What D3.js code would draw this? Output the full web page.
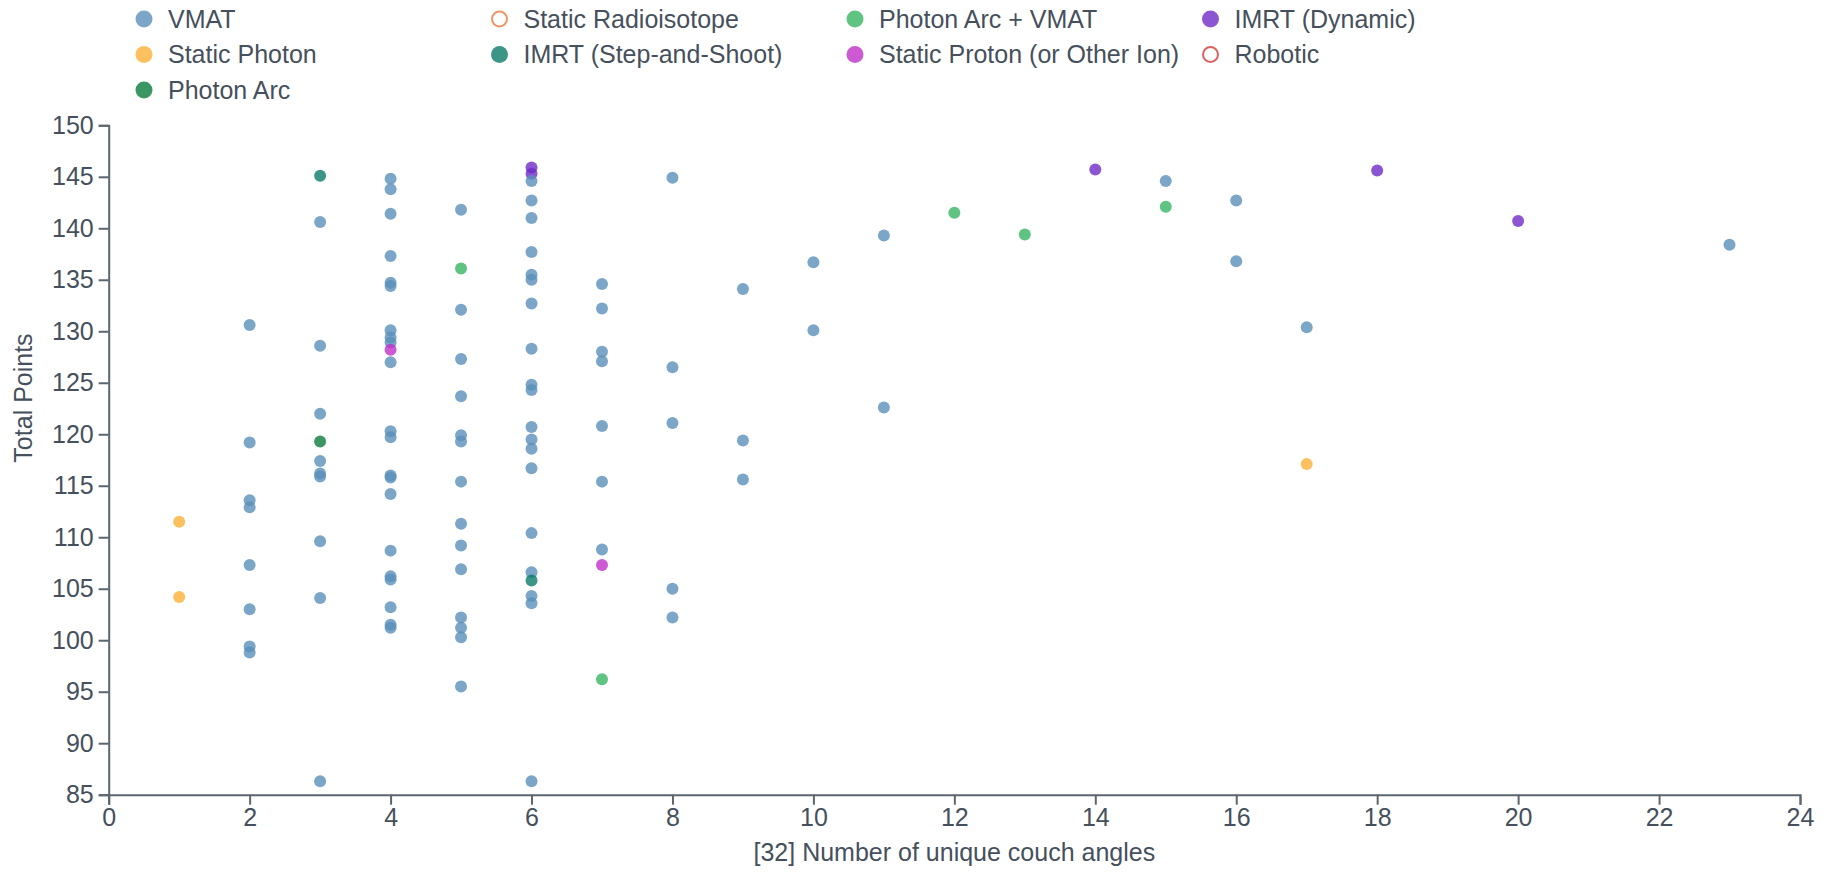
<!DOCTYPE html>
<html>
<head>
<meta charset="utf-8">
<script src="https://cdn.jsdelivr.net/npm/d3@7"></script>
<style>
  html, body { margin: 0; padding: 0; background: #fff; }
  svg { display: block; font-family: "Liberation Sans", Arial, sans-serif; }
</style>
</head>
<body>
<svg id="chart" width="1830" height="872"></svg>
<script>
// Delivery technique categories, in legend order (row by row)
const categories = [
  "VMAT", "Static Radioisotope", "Photon Arc + VMAT", "IMRT (Dynamic)",
  "Static Photon", "IMRT (Step-and-Shoot)", "Static Proton (or Other Ion)", "Robotic",
  "Photon Arc"
];
const categoryColors = [
  "#5a90ba", "#f0956a", "#37b463", "#6f2ac7",
  "#fdb037", "#0b7c69", "#c131c7", "#e06060",
  "#0b7c3d"
];
const hollowCategories = ["Static Radioisotope", "Robotic"];

// [couch angles, total points]
const vmatPoints = [
  [2,130.6],[2,119.2],[2,113.6],[2,112.9],[2,107.3],[2,103.0],[2,99.4],[2,98.8],
  [3,140.6],[3,128.6],[3,122.0],[3,117.4],[3,116.2],[3,115.9],[3,109.6],[3,104.1],[3,86.3],
  [4,144.8],[4,143.8],[4,141.4],[4,137.3],[4,134.7],[4,134.4],[4,130.1],[4,129.4],[4,128.9],
  [4,127.0],[4,120.3],[4,119.7],[4,116.0],[4,115.8],[4,114.2],[4,108.7],[4,106.2],[4,105.9],
  [4,103.2],[4,101.5],[4,101.2],
  [5,141.8],[5,132.1],[5,127.3],[5,123.7],[5,119.9],[5,119.3],[5,115.4],[5,111.3],[5,109.2],
  [5,106.9],[5,102.2],[5,101.2],[5,100.3],[5,95.5],
  [6,144.6],[6,142.7],[6,141.0],[6,137.7],[6,135.5],[6,135.0],[6,132.7],[6,128.3],[6,124.8],
  [6,124.3],[6,120.7],[6,119.5],[6,118.6],[6,116.7],[6,110.4],[6,106.6],[6,104.3],[6,103.6],[6,86.3],
  [7,134.6],[7,132.2],[7,128.0],[7,127.1],[7,120.8],[7,115.4],[7,108.8],
  [8,144.9],[8,126.5],[8,121.1],[8,105.0],[8,102.2],
  [9,134.1],[9,119.4],[9,115.6],
  [10,136.7],[10,130.1],
  [11,139.3],[11,122.6],
  [15,144.6],
  [16,142.7],[16,136.8],
  [17,130.4],
  [23,138.4]
];
const staticPhotonPoints = [[1,111.5],[1,104.2],[17,117.1]];
const photonArcPoints = [[3,119.3]];
const staticRadioisotopePoints = [];
const imrtStepShootPoints = [[3,145.1],[6,105.8]];
const photonArcVmatPoints = [[5,136.1],[7,96.2],[12,141.5],[13,139.4],[15,142.1]];
const staticProtonPoints = [[4,128.2],[7,107.3]];
const imrtDynamicPoints = [[6,145.9],[6,145.3],[14,145.7],[18,145.6],[20,140.7]];
const roboticPoints = [];

const xTicks = [0,2,4,6,8,10,12,14,16,18,20,22,24];
const yTicks = [85,90,95,100,105,110,115,120,125,130,135,140,145,150];

const xTitle = "[32] Number of unique couch angles";
const yTitle = "Total Points";

const seriesPoints = {
  "VMAT": vmatPoints,
  "Static Photon": staticPhotonPoints,
  "Photon Arc": photonArcPoints,
  "Static Radioisotope": staticRadioisotopePoints,
  "IMRT (Step-and-Shoot)": imrtStepShootPoints,
  "Photon Arc + VMAT": photonArcVmatPoints,
  "Static Proton (or Other Ion)": staticProtonPoints,
  "IMRT (Dynamic)": imrtDynamicPoints,
  "Robotic": roboticPoints
};
// drawing order of the marks
const drawOrder = [
  "IMRT (Dynamic)", "VMAT", "Static Photon", "Photon Arc", "IMRT (Step-and-Shoot)",
  "Photon Arc + VMAT", "Static Proton (or Other Ion)"
];

// ---- layout ----
const textColor = "#46505c";
const axisColor = "#5b6670";
const fontSize = 25;
const plot = { left: 108.7, right: 1800, top: 125.3, bottom: 794.7 };

const svg = d3.select("#chart");
const color = d3.scaleOrdinal().domain(categories).range(categoryColors);

const x = d3.scaleLinear().domain([0, 24]).range([plot.left, plot.right]);
const y = d3.scaleLinear().domain([85, 150]).range([plot.bottom, plot.top]);

// axes
const xAxis = svg.append("g")
  .attr("transform", `translate(0,${plot.bottom})`)
  .call(d3.axisBottom(x).tickValues(xTicks).tickFormat(d3.format("d")).tickSize(10).tickPadding(4));
const yAxis = svg.append("g")
  .attr("transform", `translate(${plot.left},0)`)
  .call(d3.axisLeft(y).tickValues(yTicks).tickFormat(d3.format("d")).tickSize(10).tickPadding(5));

[xAxis, yAxis].forEach(g => {
  g.select(".domain").attr("stroke", axisColor).attr("stroke-width", 2);
  g.selectAll(".tick line").attr("stroke", axisColor).attr("stroke-width", 2);
  g.selectAll(".tick text").attr("fill", textColor).style("font-size", fontSize + "px")
    .style("font-family", '"Liberation Sans", Arial, sans-serif');
});

// axis titles
svg.append("text")
  .attr("x", (plot.left + plot.right) / 2)
  .attr("y", 861)
  .attr("text-anchor", "middle")
  .attr("fill", textColor)
  .style("font-size", fontSize + "px")
  .text(xTitle);

svg.append("text")
  .attr("transform", "translate(23,398) rotate(-90)")
  .attr("text-anchor", "middle")
  .attr("dy", "0.35em")
  .attr("fill", textColor)
  .style("font-size", fontSize + "px")
  .text(yTitle);

// points
const pointData = [];
drawOrder.forEach(name => {
  seriesPoints[name].forEach(p => pointData.push({ name, xv: p[0], yv: p[1] }));
});

svg.append("g")
  .selectAll("circle")
  .data(pointData)
  .join("circle")
  .attr("cx", d => x(d.xv))
  .attr("cy", d => y(d.yv))
  .attr("r", 6)
  .attr("fill", d => color(d.name))
  .attr("fill-opacity", 0.8);

// legend: four columns, filled row by row
const legendX0 = 144, legendColStep = 355.5, legendY0 = 19, legendRowStep = 35.5;
const legend = svg.append("g")
  .selectAll("g")
  .data(categories)
  .join("g")
  .attr("transform", (d, i) =>
    `translate(${legendX0 + (i % 4) * legendColStep},${legendY0 + Math.floor(i / 4) * legendRowStep})`);

legend.append("circle")
  .attr("r", d => hollowCategories.includes(d) ? 7.5 : 8.5)
  .attr("fill", d => hollowCategories.includes(d) ? "#fff" : color(d))
  .attr("fill-opacity", d => hollowCategories.includes(d) ? 1 : 0.8)
  .attr("stroke", d => hollowCategories.includes(d) ? color(d) : "none")
  .attr("stroke-width", 2);

legend.append("text")
  .attr("x", 24)
  .attr("dy", "0.35em")
  .attr("fill", textColor)
  .style("font-size", fontSize + "px")
  .text(d => d);
</script>
</body>
</html>
